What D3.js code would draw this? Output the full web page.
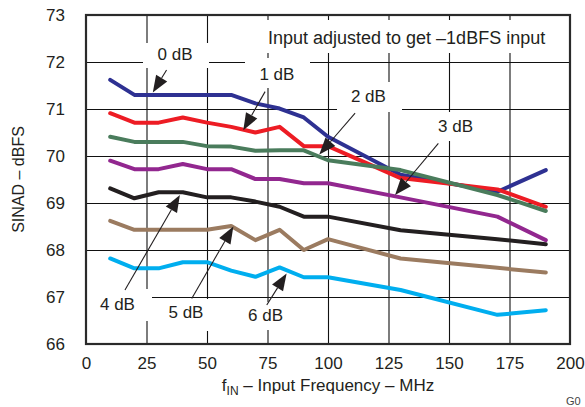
<!DOCTYPE html>
<html>
<head>
<meta charset="utf-8">
<script src="https://cdn.jsdelivr.net/npm/d3@7"></script>
<style>
  html, body { margin: 0; padding: 0; background: #fff; }
  svg { display: block; }
  text { font-family: "Liberation Sans", Arial, Helvetica, sans-serif; fill: #231f20; }
</style>
</head>
<body>
<svg id="chart" width="585" height="407"></svg>
<script>
// ---- data ----
const freqs = [10, 20, 30, 40, 50, 60, 70, 80, 90, 100, 130, 170, 190];
const seriesNames = ["0 dB", "1 dB", "2 dB", "3 dB", "4 dB", "5 dB", "6 dB"];
const s0dB = [71.62, 71.30, 71.30, 71.30, 71.30, 71.30, 71.12, 71.01, 70.82, 70.41, 69.60, 69.24, 69.70];
const s1dB = [70.91, 70.71, 70.71, 70.82, 70.71, 70.62, 70.50, 70.62, 70.21, 70.21, 69.53, 69.29, 68.92];
const s2dB = [70.41, 70.30, 70.30, 70.30, 70.21, 70.20, 70.11, 70.12, 70.12, 69.91, 69.70, 69.17, 68.83];
const s3dB = [69.90, 69.72, 69.72, 69.83, 69.72, 69.72, 69.51, 69.51, 69.42, 69.42, 69.12, 68.71, 68.21];
const s4dB = [69.31, 69.10, 69.23, 69.23, 69.12, 69.12, 69.03, 68.92, 68.71, 68.71, 68.42, 68.23, 68.12];
const s5dB = [68.62, 68.43, 68.43, 68.43, 68.43, 68.51, 68.21, 68.43, 68.00, 68.23, 67.82, 67.62, 67.52];
const s6dB = [67.82, 67.61, 67.61, 67.74, 67.74, 67.56, 67.43, 67.63, 67.42, 67.42, 67.15, 66.62, 66.72];
const allSeries = [s0dB, s1dB, s2dB, s3dB, s4dB, s5dB, s6dB];
const colors = ["#2e3192", "#ed1c24", "#4a7c5c", "#92278f", "#231f20", "#9b7b60", "#00aeef"];
const xTicks = [0, 25, 50, 75, 100, 125, 150, 175, 200];
const yTicks = [66, 67, 68, 69, 70, 71, 72, 73];
const noteText = "Input adjusted to get \u20131dBFS input";

// ---- layout ----
const W = 585, H = 407;
const m = { left: 86, top: 15, right: 15, bottom: 63 };
const x = d3.scaleLinear().domain([0, 200]).range([m.left, W - m.right]);
const y = d3.scaleLinear().domain([66, 73]).range([H - m.bottom, m.top]);
const svg = d3.select("#chart");

// gridlines
svg.append("g")
  .attr("transform", `translate(0,${y(66)})`)
  .call(d3.axisBottom(x).tickValues(xTicks.slice(1, -1)).tickSize(-(y(66) - y(73))).tickFormat(""))
  .call(g => g.select(".domain").remove())
  .call(g => g.selectAll("line").attr("stroke", "#111").attr("stroke-width", 1.1));
svg.append("g")
  .attr("transform", `translate(${x(0)},0)`)
  .call(d3.axisLeft(y).tickValues(yTicks.slice(1, -1)).tickSize(-(x(200) - x(0))).tickFormat(""))
  .call(g => g.select(".domain").remove())
  .call(g => g.selectAll("line").attr("stroke", "#111").attr("stroke-width", 1.1));

// annotation layout (in data units)
const labels = [
  { t: "0 dB", lx: 36.8, ly: 72.04, ax: 33.3, ay: 71.83, tx: 27.6, ty: 71.35, box: [143, 43, 209, 68] },
  { t: "1 dB", lx: 78.9, ly: 71.62, ax: 74.0, ay: 71.37, tx: 65.0, ty: 70.55, box: [245, 58, 310, 88] },
  { t: "2 dB", lx: 116.7, ly: 71.15, ax: 111.2, ay: 70.91, tx: 96.4, ty: 70.03, box: [337, 82, 402, 112] },
  { t: "3 dB", lx: 152.7, ly: 70.51, ax: 145.6, ay: 70.27, tx: 127.7, ty: 69.17, box: [432, 112, 482, 141] },
  { t: "4 dB", lx: 13.0, ly: 66.72, ax: 16.1, ay: 67.15, tx: 38.8, ty: 69.17, box: [87, 289, 152, 321] },
  { t: "5 dB", lx: 41.3, ly: 66.55, ax: 43.7, ay: 66.97, tx: 60.9, ty: 68.50, box: [160, 299, 213, 331] },
  { t: "6 dB", lx: 74.2, ly: 66.50, ax: 74.7, ay: 66.83, tx: 82.9, ty: 67.50, box: [240, 302, 292, 330] }
];
// white boxes behind the labels (interrupt gridlines)
const boxes = labels.map(d => d.box).concat([[262, 20, 552, 53]]);
svg.append("g").selectAll("rect").data(boxes).join("rect")
  .attr("x", d => d[0]).attr("y", d => d[1])
  .attr("width", d => d[2] - d[0]).attr("height", d => d[3] - d[1])
  .attr("fill", "#fff");

// series lines
const line = d3.line().x((d, i) => x(freqs[i])).y(d => y(d));
svg.append("g").selectAll("path").data(allSeries).join("path")
  .attr("d", d => line(d))
  .attr("fill", "none")
  .attr("stroke", (d, i) => colors[i])
  .attr("stroke-width", 4)
  .attr("stroke-linejoin", "round")
  .attr("stroke-linecap", "round");

// arrows
const ag = svg.append("g");
labels.forEach(d => {
  const x1 = x(d.ax), y1 = y(d.ay), x2 = x(d.tx), y2 = y(d.ty);
  const ang = Math.atan2(y2 - y1, x2 - x1);
  const L = 17, hw = 6.5;
  const bx = x2 - L * Math.cos(ang), by = y2 - L * Math.sin(ang);
  ag.append("line").attr("x1", x1).attr("y1", y1).attr("x2", bx).attr("y2", by)
    .attr("stroke", "#231f20").attr("stroke-width", 1.1);
  const px = -Math.sin(ang) * hw, py = Math.cos(ang) * hw;
  ag.append("path")
    .attr("d", `M${x2},${y2}L${bx + px},${by + py}L${bx - px},${by - py}Z`)
    .attr("fill", "#231f20");
});

// label texts
svg.append("g").selectAll("text").data(labels).join("text")
  .attr("x", d => x(d.lx)).attr("y", d => y(d.ly))
  .attr("text-anchor", "middle")
  .attr("font-size", 17)
  .text(d => d.t);

svg.append("text")
  .attr("x", x(75.2)).attr("y", y(72.38))
  .attr("font-size", 18)
  .text(noteText);

// frame
svg.append("rect")
  .attr("x", x(0)).attr("y", y(73))
  .attr("width", x(200) - x(0)).attr("height", y(66) - y(73))
  .attr("fill", "none").attr("stroke", "#2a2a2a").attr("stroke-width", 2.2);

// tick labels
svg.append("g")
  .attr("transform", `translate(0,${y(66)})`)
  .call(d3.axisBottom(x).tickValues(xTicks).tickSize(0).tickPadding(13).tickFormat(d3.format("d")))
  .call(g => g.select(".domain").remove())
  .call(g => g.selectAll("text").attr("font-size", 17).attr("font-family", null));
svg.append("g")
  .attr("transform", `translate(${x(0)},0)`)
  .call(d3.axisLeft(y).tickValues(yTicks).tickSize(0).tickPadding(21).tickFormat(d3.format("d")))
  .call(g => g.select(".domain").remove())
  .call(g => g.selectAll("text").attr("font-size", 17).attr("font-family", null));

// axis titles
const xt = svg.append("text")
  .attr("x", (x(0) + x(200)) / 2).attr("y", 391)
  .attr("text-anchor", "middle")
  .attr("font-size", 17);
xt.append("tspan").text("f");
xt.append("tspan").attr("font-size", 12).attr("dy", 4).text("IN");
xt.append("tspan").attr("dy", -4).text(" \u2013 Input Frequency \u2013 MHz");

svg.append("text")
  .attr("transform", `translate(24,${(y(66) + y(73)) / 2}) rotate(-90)`)
  .attr("text-anchor", "middle")
  .attr("font-size", 16)
  .text("SINAD \u2013 dBFS");

svg.append("text")
  .attr("x", 566).attr("y", 405)
  .attr("font-size", 11)
  .style("fill", "#444")
  .text("G0");
</script>
</body>
</html>
